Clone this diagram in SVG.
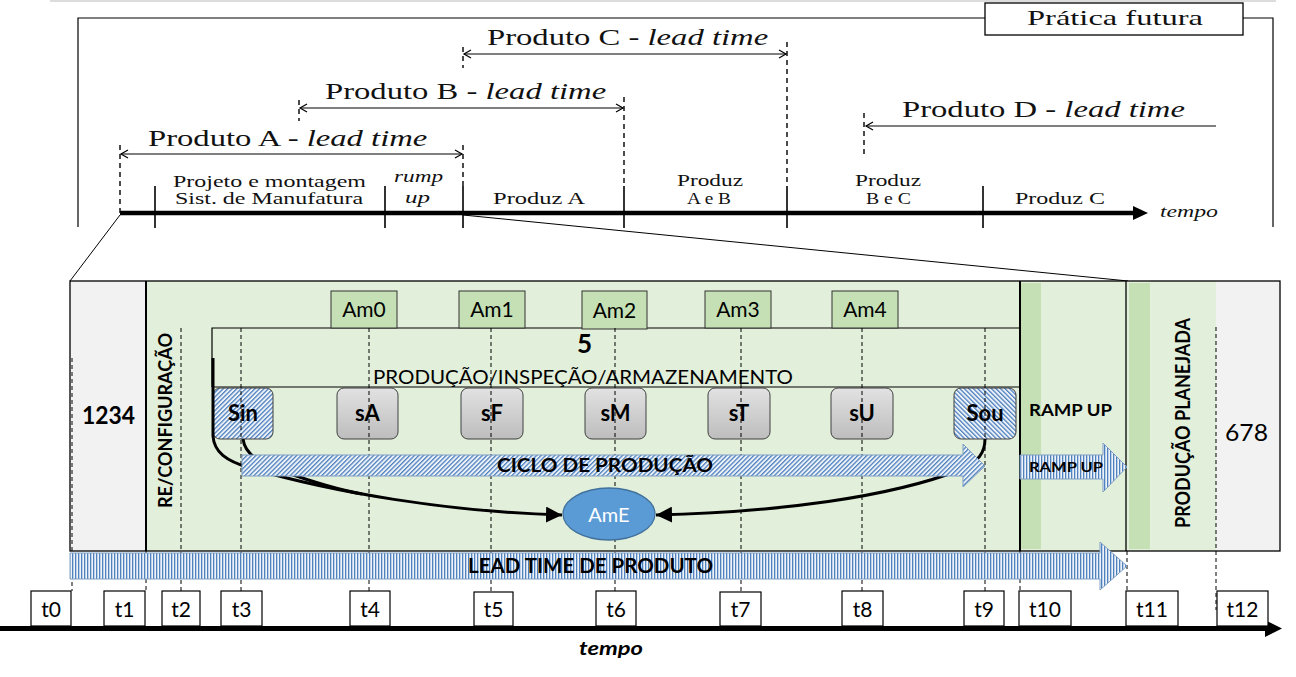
<svg xmlns="http://www.w3.org/2000/svg" width="1296" height="677" viewBox="0 0 1296 677">
<defs>
<pattern id="hatchR" patternUnits="userSpaceOnUse" width="3.2" height="3.2" patternTransform="rotate(45)"><rect width="3.2" height="3.2" fill="#eef3fa"/><rect width="1.3" height="3.2" fill="#4f81bd"/></pattern>
<pattern id="hatchL" patternUnits="userSpaceOnUse" width="3.2" height="3.2" patternTransform="rotate(-45)"><rect width="3.2" height="3.2" fill="#eef3fa"/><rect width="1.3" height="3.2" fill="#4f81bd"/></pattern>
<pattern id="vstripe" patternUnits="userSpaceOnUse" width="3" height="10"><rect width="3" height="10" fill="#eef3fa"/><rect width="1.3" height="10" fill="#4f81bd"/></pattern>
<linearGradient id="gray" x1="0" y1="0" x2="0" y2="1"><stop offset="0" stop-color="#e2e2e2"/><stop offset="1" stop-color="#bdbdbd"/></linearGradient>
<marker id="ah" markerUnits="userSpaceOnUse" markerWidth="16" markerHeight="16" viewBox="0 0 16 16" refX="16" refY="8" orient="auto"><path d="M0,0 L16,8 L0,16 z" fill="#000"/></marker>
</defs>
<style>
.serif{font-family:"Liberation Serif","Times New Roman",serif;fill:#111}
.sans{font-family:Lato,"Open Sans",sans-serif;fill:#000}
.b{font-weight:bold}
.it{font-style:italic}
.dash{stroke:#000;stroke-width:1;stroke-dasharray:4 3;fill:none}
.tdash{stroke:#000;stroke-width:1.4;stroke-dasharray:5 4;fill:none}
.thin{stroke:#000;stroke-width:1.2;fill:none}
.tick{stroke:#000;stroke-width:1.6;fill:none}
.node{fill:url(#gray);stroke:#404040;stroke-width:1}
.am{fill:#c5e0b4;stroke:#333;stroke-width:1}
.tbox{fill:#fff;stroke:#000;stroke-width:1.2}
.curve{stroke:#000;stroke-width:3;fill:none}
.blk{stroke:#7f9fc4;stroke-width:1}
.nl{font-size:22px}
.al{font-size:21px}
.tl{font-size:21px}
</style>

<!-- top section -->
<g id="top-frame">
<line x1="50" y1="1" x2="1276" y2="1" stroke="#dcdcdc" stroke-width="2"/>
<polyline class="thin" points="78,227 78,18 985,18"/>
<polyline class="thin" points="1243,18 1273,18 1273,227"/>
<rect x="985" y="3" width="258" height="32" fill="#fff" stroke="#000" stroke-width="1.3"/>
<text class="serif" x="1027" y="25" font-size="21" textLength="176" lengthAdjust="spacingAndGlyphs">Prática futura</text>
</g>
<g id="top-timeline">
<line x1="120" y1="213" x2="1136" y2="213" stroke="#000" stroke-width="4.5"/>
<polygon points="1133,206 1148,213 1133,220" fill="#000"/>
<text class="serif it" x="1160" y="217" font-size="16" textLength="58" lengthAdjust="spacingAndGlyphs">tempo</text>
<line class="tdash" x1="120" y1="145" x2="120" y2="213"/>
<line class="tick" x1="155" y1="186" x2="155" y2="228"/>
<line class="tick" x1="385" y1="186" x2="385" y2="228"/>
<line class="tdash" x1="463" y1="47" x2="463" y2="68"/>
<line class="tdash" x1="463" y1="145" x2="463" y2="186"/>
<line class="tick" x1="463" y1="186" x2="463" y2="228"/>
<line class="tdash" x1="299" y1="100" x2="299" y2="121"/>
<line class="tdash" x1="624" y1="97" x2="624" y2="186"/>
<line class="tick" x1="624" y1="186" x2="624" y2="228"/>
<line class="tdash" x1="787" y1="42" x2="787" y2="186"/>
<line class="tick" x1="787" y1="186" x2="787" y2="228"/>
<line class="tdash" x1="864" y1="113" x2="864" y2="156"/>
<line class="tick" x1="983" y1="186" x2="983" y2="228"/>
<text class="serif" x="173" y="187" font-size="17" textLength="193" lengthAdjust="spacingAndGlyphs">Projeto e montagem</text>
<text class="serif" x="175" y="204" font-size="17" textLength="188" lengthAdjust="spacingAndGlyphs">Sist. de Manufatura</text>
<text class="serif it" x="394" y="182" font-size="17" textLength="49" lengthAdjust="spacingAndGlyphs">rump</text>
<text class="serif it" x="405" y="203" font-size="17" textLength="25" lengthAdjust="spacingAndGlyphs">up</text>
<text class="serif" x="493" y="204" font-size="17" textLength="92" lengthAdjust="spacingAndGlyphs">Produz A</text>
<text class="serif" x="677" y="186" font-size="17" textLength="66" lengthAdjust="spacingAndGlyphs">Produz</text>
<text class="serif" x="687" y="204" font-size="17" textLength="44" lengthAdjust="spacingAndGlyphs">A e B</text>
<text class="serif" x="855" y="186" font-size="17" textLength="66" lengthAdjust="spacingAndGlyphs">Produz</text>
<text class="serif" x="866" y="204" font-size="17" textLength="45" lengthAdjust="spacingAndGlyphs">B e C</text>
<text class="serif" x="1015" y="204" font-size="17" textLength="90" lengthAdjust="spacingAndGlyphs">Produz C</text>
</g>
<g id="lead-A">
<line class="thin" x1="121" y1="154" x2="462" y2="154"/>
<polyline class="thin" points="128,150 121,154 128,158"/>
<polyline class="thin" points="455,150 462,154 455,158"/>
<text class="serif" transform="translate(148,146) scale(1.42,1)" font-size="23">Produto A - <tspan class="it">lead time</tspan></text>
</g>
<g id="lead-B">
<line class="thin" x1="300" y1="108" x2="623" y2="108"/>
<polyline class="thin" points="307,104 300,108 307,112"/>
<polyline class="thin" points="616,104 623,108 616,112"/>
<text class="serif" transform="translate(325,99) scale(1.42,1)" font-size="23">Produto B - <tspan class="it">lead time</tspan></text>
</g>
<g id="lead-C">
<line class="thin" x1="464" y1="54" x2="786" y2="54"/>
<polyline class="thin" points="471,50 464,54 471,58"/>
<polyline class="thin" points="779,50 786,54 779,58"/>
<text class="serif" transform="translate(487,45) scale(1.42,1)" font-size="23">Produto C - <tspan class="it">lead time</tspan></text>
</g>
<g id="lead-D">
<line class="thin" x1="866" y1="126" x2="1216" y2="126"/>
<polyline class="thin" points="873,122 866,126 873,130"/>
<text class="serif" transform="translate(902,117) scale(1.42,1)" font-size="23">Produto D - <tspan class="it">lead time</tspan></text>
</g>
<g id="zoom-lines">
<line x1="120" y1="215" x2="70" y2="281" stroke="#000" stroke-width="1"/>
<line x1="463" y1="215" x2="1128" y2="281" stroke="#000" stroke-width="1"/>
</g>

<!-- bottom section backgrounds -->
<g id="bands">
<rect x="70" y="281" width="76" height="270" fill="#f2f2f2"/>
<rect x="146" y="281" width="874" height="270" fill="#e2efda"/>
<rect x="1020" y="281" width="106" height="270" fill="#e2efda"/>
<rect x="1021" y="283" width="20" height="266" fill="#c5e0b4"/>
<rect x="1126" y="281" width="90" height="270" fill="#e2efda"/>
<rect x="1129" y="283" width="21" height="266" fill="#c5e0b4"/>
<rect x="1216" y="281" width="64" height="270" fill="#f2f2f2"/>
<rect x="70" y="281" width="1210" height="270" fill="none" stroke="#000" stroke-width="1.3"/>
<line x1="146" y1="281" x2="146" y2="551" stroke="#000" stroke-width="2"/>
<line x1="1020" y1="281" x2="1020" y2="551" stroke="#000" stroke-width="2"/>
<line x1="1126" y1="281" x2="1126" y2="551" stroke="#000" stroke-width="1.3"/>
<polyline points="212,387 212,328 1020,328" fill="none" stroke="#000" stroke-width="1.2"/>
<line x1="212" y1="387" x2="1020" y2="387" stroke="#000" stroke-width="1.2"/>
</g>

<g id="Am0"><rect class="am" x="331" y="291" width="66" height="37"/><text class="sans al" x="364" y="317" text-anchor="middle">Am0</text></g>
<g id="Am1"><rect class="am" x="459" y="291" width="66" height="37"/><text class="sans al" x="492" y="317" text-anchor="middle">Am1</text></g>
<g id="Am2"><rect class="am" x="582" y="291" width="65" height="38"/><text class="sans al" x="614.5" y="318" text-anchor="middle">Am2</text></g>
<g id="Am3"><rect class="am" x="705" y="291" width="66" height="37"/><text class="sans al" x="738" y="317" text-anchor="middle">Am3</text></g>
<g id="Am4"><rect class="am" x="832" y="291" width="66" height="37"/><text class="sans al" x="865" y="317" text-anchor="middle">Am4</text></g>

<g id="Sin"><rect x="213" y="388" width="60" height="51" rx="7" fill="url(#hatchR)" stroke="#404040"/><text class="sans b nl" x="243" y="421" text-anchor="middle">Sin</text></g>
<g id="sA"><rect class="node" x="337" y="388" width="61" height="51" rx="7"/><text class="sans b nl" x="367.5" y="421" text-anchor="middle">sA</text></g>
<g id="sF"><rect class="node" x="461" y="388" width="62" height="51" rx="7"/><text class="sans b nl" x="492" y="421" text-anchor="middle">sF</text></g>
<g id="sM"><rect class="node" x="585" y="388" width="61" height="51" rx="7"/><text class="sans b nl" x="615.5" y="421" text-anchor="middle">sM</text></g>
<g id="sT"><rect class="node" x="708" y="388" width="62" height="51" rx="7"/><text class="sans b nl" x="739" y="421" text-anchor="middle">sT</text></g>
<g id="sU"><rect class="node" x="831" y="388" width="62" height="51" rx="7"/><text class="sans b nl" x="862" y="421" text-anchor="middle">sU</text></g>
<g id="Sou"><rect x="954" y="388" width="62" height="51" rx="7" fill="url(#hatchL)" stroke="#404040"/><text class="sans b nl" x="985" y="421" text-anchor="middle">Sou</text></g>

<g id="time-markers">
<line class="dash" x1="72" y1="358" x2="72" y2="591"/>
<line class="dash" x1="146" y1="551" x2="146" y2="591"/>
<line class="dash" x1="181" y1="328" x2="181" y2="591"/>
<line class="dash" x1="241" y1="328" x2="241" y2="591"/>
<line class="dash" x1="369" y1="328" x2="369" y2="591"/>
<line class="dash" x1="491" y1="328" x2="491" y2="591"/>
<line class="dash" x1="615" y1="328" x2="615" y2="591"/>
<line class="dash" x1="741" y1="328" x2="741" y2="591"/>
<line class="dash" x1="862" y1="328" x2="862" y2="591"/>
<line class="dash" x1="985" y1="328" x2="985" y2="591"/>
<line class="dash" x1="1020" y1="551" x2="1020" y2="591"/>
<line class="dash" x1="1127" y1="551" x2="1127" y2="591"/>
<line class="dash" x1="1216" y1="327" x2="1216" y2="610"/>
</g>

<g id="connectors">
<path class="curve" d="M213,358 V436 C214,452 226,461 250,468 C330,492 450,512 562,515" marker-end="url(#ah)"/>
<path class="curve" stroke-width="2.2" d="M243,439 C245,455 260,463 285,472 C310,481 335,489 362,494"/>
<path class="curve" d="M985,439 C985,452 979,462 960,470 C890,497 780,512 656,515" marker-end="url(#ah)"/>
</g>

<g id="AmE"><ellipse cx="609" cy="514" rx="46" ry="26" fill="#5b9bd5" stroke="#41719c" stroke-width="1.3"/><text class="sans" x="609" y="522" font-size="20" style="fill:#fff" text-anchor="middle">AmE</text></g>

<g id="ciclo">
<polygon class="blk" fill="url(#hatchR)" points="242,455 963,455 963,444 985,466 963,487 963,476 242,476"/>
<text class="sans b" x="497" y="472" font-size="19" textLength="216" lengthAdjust="spacingAndGlyphs">CICLO DE PRODUÇÃO</text>
</g>
<g id="ramp-arrow">
<polygon class="blk" fill="url(#vstripe)" points="1020,455 1103,455 1103,443 1127,467 1103,492 1103,479 1020,479"/>
<text class="sans b" x="1029" y="472" font-size="14" textLength="74" lengthAdjust="spacingAndGlyphs">RAMP UP</text>
</g>
<g id="lead-time">
<polygon class="blk" fill="url(#vstripe)" points="70,553 1100,553 1100,542 1127,566 1100,590 1100,579 70,579"/>
<text class="sans b" x="468" y="573" font-size="20" textLength="245" lengthAdjust="spacingAndGlyphs">LEAD TIME DE PRODUTO</text>
</g>

<g id="labels">
<text class="sans b" x="82" y="424" font-size="24" textLength="53" lengthAdjust="spacingAndGlyphs">1234</text>
<text class="sans" x="1225" y="441" font-size="24" textLength="43" lengthAdjust="spacingAndGlyphs">678</text>
<text class="sans b" x="577" y="353" font-size="26">5</text>
<text class="sans" x="373" y="384" font-size="20" textLength="420" lengthAdjust="spacingAndGlyphs">PRODUÇÃO/INSPEÇÃO/ARMAZENAMENTO</text>
<text class="sans b" x="1029" y="416" font-size="17" textLength="83" lengthAdjust="spacingAndGlyphs">RAMP UP</text>
<text class="sans b" transform="translate(172,508) rotate(-90)" font-size="18" textLength="175" lengthAdjust="spacingAndGlyphs">RE/CONFIGURAÇÃO</text>
<text class="sans b" transform="translate(1190,528) rotate(-90)" font-size="20" textLength="210" lengthAdjust="spacingAndGlyphs">PRODUÇÃO PLANEJADA</text>
</g>

<g id="time-axis">
<line x1="0" y1="628.5" x2="1266" y2="628.5" stroke="#000" stroke-width="5"/>
<polygon points="1265,620 1282,628.5 1265,637" fill="#000"/>
<text class="sans b it" x="579" y="655" font-size="19" textLength="64" lengthAdjust="spacingAndGlyphs">tempo</text>
</g>
<g id="t0"><rect class="tbox" x="31" y="591" width="40" height="35"/><text class="sans tl" x="51" y="617" text-anchor="middle">t0</text></g>
<g id="t1"><rect class="tbox" x="104" y="591" width="41" height="35"/><text class="sans tl" x="124.5" y="617" text-anchor="middle">t1</text></g>
<g id="t2"><rect class="tbox" x="162" y="591" width="38" height="35"/><text class="sans tl" x="181" y="617" text-anchor="middle">t2</text></g>
<g id="t3"><rect class="tbox" x="221" y="591" width="41" height="35"/><text class="sans tl" x="241.5" y="617" text-anchor="middle">t3</text></g>
<g id="t4"><rect class="tbox" x="350" y="591" width="40" height="35"/><text class="sans tl" x="370" y="617" text-anchor="middle">t4</text></g>
<g id="t5"><rect class="tbox" x="474" y="592" width="39" height="34"/><text class="sans tl" x="493.5" y="617" text-anchor="middle">t5</text></g>
<g id="t6"><rect class="tbox" x="596" y="591" width="40" height="35"/><text class="sans tl" x="616" y="617" text-anchor="middle">t6</text></g>
<g id="t7"><rect class="tbox" x="720" y="592" width="41" height="34"/><text class="sans tl" x="740.5" y="617" text-anchor="middle">t7</text></g>
<g id="t8"><rect class="tbox" x="842" y="591" width="41" height="35"/><text class="sans tl" x="862.5" y="617" text-anchor="middle">t8</text></g>
<g id="t9"><rect class="tbox" x="964" y="591" width="40" height="35"/><text class="sans tl" x="984" y="617" text-anchor="middle">t9</text></g>
<g id="t10"><rect class="tbox" x="1019" y="591" width="52" height="35"/><text class="sans tl" x="1045" y="617" text-anchor="middle">t10</text></g>
<g id="t11"><rect class="tbox" x="1126" y="591" width="52" height="35"/><text class="sans tl" x="1152" y="617" text-anchor="middle">t11</text></g>
<g id="t12"><rect class="tbox" x="1217" y="591" width="51" height="35"/><text class="sans tl" x="1242.5" y="617" text-anchor="middle">t12</text></g>
</svg>
